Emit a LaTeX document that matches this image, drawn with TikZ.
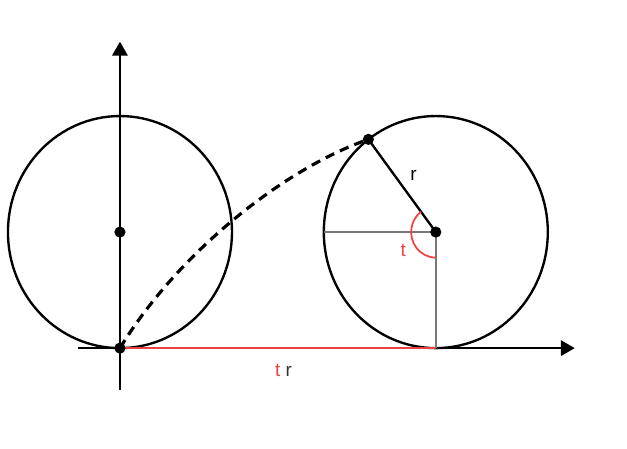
\documentclass[tikz,border=0pt]{standalone}
\usepackage{fontspec}
\setmainfont{Liberation Sans}
\usetikzlibrary{arrows, calc}
\definecolor{myred}{RGB}{238,64,64}
\definecolor{mygrey}{RGB}{120,120,120}
\definecolor{mydark}{RGB}{50,50,50}
\tikzstyle{wheel} = [draw=black, line width=1.5pt]
\tikzstyle{axis} = [-triangle 60, line width=1.4pt]
\tikzstyle{dot} = [circle, fill=black, inner sep=0, minimum size=0.25cm]
\tikzstyle{guide} = [draw=mygrey, line width=1.1pt]
\tikzstyle{lbl} = [font=\large, inner sep=0]

\begin{document}
\begin{tikzpicture}[x=2.5cm, y=2.59cm]

\useasboundingbox (-1.071,-0.862) rectangle (4.527,3.0);

%%% points
\coordinate (O) at (0,0);
\coordinate (C1) at (0,1);
\coordinate (C2) at (2.82,1);
\coordinate (P) at (2.218,1.799);
\coordinate (foot) at (2.82,0);
\coordinate (rim) at (1.82,1);
\coordinate (xl) at (-0.375,0);
\coordinate (xr) at (4.06,0);
\coordinate (yb) at (0,-0.362);
\coordinate (yt) at (0,2.64);

%%% axes
\draw[axis] (xl) -- (xr);
\draw[axis] (yb) -- (yt);

%%% wheels
\draw[wheel] (C1) circle (1);
\draw[wheel] (C2) circle (1);

\draw[myred, line width=1.4pt] (O) -- (foot);
\draw[guide] (rim) -- (C2) -- (foot);
\draw[line width=1.5pt] (C2) -- (P);
\draw[myred, line width=1.1pt] ($(C2)+(127:0.22)$) arc (127:270:0.22);

\draw[line width=2pt, dash pattern=on 6pt off 4pt]
  (O) .. controls (0.51,0.81) and (1.455,1.543) .. (P);

%%% dots
\node[dot] (o) at (O) {};
\node[dot] (c1) at (C1) {};
\node[dot] (c2) at (C2) {};
\node[dot] (p) at (P) {};

%%% labels
\node[lbl] (r) at (2.62,1.49) {r};
\node[lbl, text=myred] (t) at (2.53,0.845) {t};
\node[lbl, text=mydark] (tr) at (1.46,-0.19) {\textcolor{myred}{t} r};

\end{tikzpicture}
\end{document}
